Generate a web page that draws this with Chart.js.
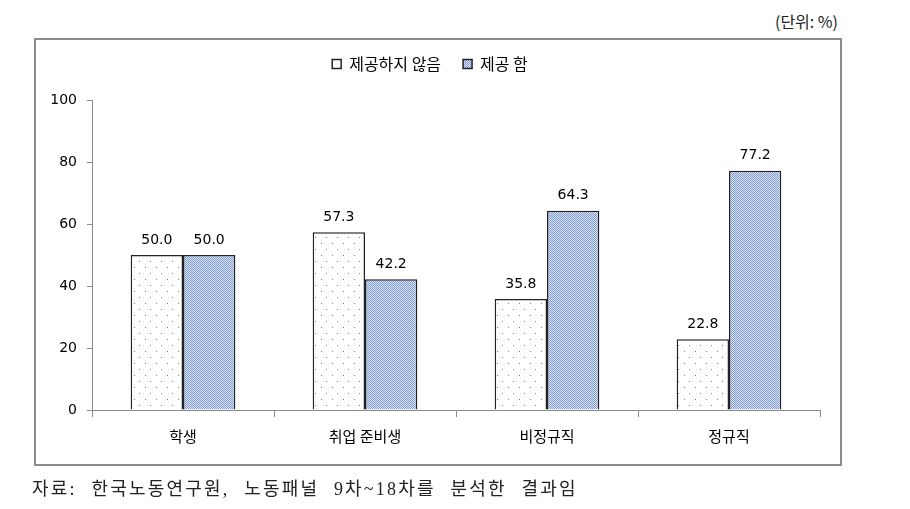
<!DOCTYPE html>
<html>
<head>
<meta charset="utf-8">
<script src="https://cdn.jsdelivr.net/npm/chart.js@4.4.0/dist/chart.umd.min.js"></script>
<style>
  html, body { margin: 0; padding: 0; background: #fff; }
  #wrap { position: relative; width: 910px; height: 509px; }
  #frame { position: absolute; left: 34px; top: 38px; width: 804px; height: 424px; border: 2px solid #8c8c8c; }
  #unit { position: absolute; right: 72px; top: 9px; font: 16px "Noto Sans CJK KR", sans-serif; color: #222; }
  #note { position: absolute; left: 32px; top: 474px; font: 18px "Liberation Serif", "Noto Sans CJK KR", serif; color: #222; letter-spacing: 2.2px; word-spacing: 8px; }
  canvas { position: absolute; left: 0; top: 0; }
</style>
</head>
<body>
<div id="wrap">
  <div id="frame"></div>
  <div id="unit">(단위: %)</div>
  <canvas id="chart" width="910" height="509"></canvas>
  <div id="note">자료: 한국노동연구원, 노동패널 9차~18차를 분석한 결과임</div>
</div>
<script>
'use strict';

var categories = ['학생', '취업 준비생', '비정규직', '정규직'];
var seriesNames = ['제공하지 않음', '제공 함'];
var notProvided = [50.0, 57.3, 35.8, 22.8];
var provided = [50.0, 42.2, 64.3, 77.2];
var yTicks = [0, 20, 40, 60, 80, 100];

var makeDots = function() {
    var c = document.createElement('canvas');
    c.width = 11; c.height = 12;
    var g = c.getContext('2d');
    g.fillStyle = '#ffffff';
    g.fillRect(0, 0, 11, 12);
    g.fillStyle = '#5f82c8';
    g.fillRect(2, 3, 1, 1);
    g.fillRect(7, 9, 1, 1);
    return g.createPattern(c, 'repeat');
};
var makeChecker = function() {
    var c = document.createElement('canvas');
    c.width = 2; c.height = 2;
    var g = c.getContext('2d');
    g.fillStyle = '#dbe4f5';
    g.fillRect(0, 0, 2, 2);
    g.fillStyle = '#7e9bd3';
    g.fillRect(0, 0, 1, 1);
    g.fillRect(1, 1, 1, 1);
    return g.createPattern(c, 'repeat');
};

// make room between the legend and the plot
var legendGap = {
    id: 'legendGap',
    beforeInit: function(chart) {
        var fit = chart.legend.fit;
        chart.legend.fit = function() {
            fit.bind(chart.legend)();
            this.height += 18;
        };
    }
};

var valueLabels = {
    id: 'valueLabels',
    afterDatasetsDraw: function(chart) {
        var ctx = chart.ctx;
        ctx.save();
        ctx.font = '14px "DejaVu Sans", sans-serif';
        ctx.fillStyle = '#000';
        ctx.textAlign = 'center';
        ctx.textBaseline = 'bottom';
        chart.data.datasets.forEach(function(ds, i) {
            chart.getDatasetMeta(i).data.forEach(function(bar, j) {
                ctx.fillText(ds.data[j].toFixed(1), bar.x, bar.y - 8);
            });
        });
        ctx.restore();
    }
};

var ctx = document.getElementById('chart').getContext('2d');
var chart = new Chart(ctx, {
    type: 'bar',
    data: {
        labels: categories,
        datasets: [{
            label: seriesNames[0],
            data: notProvided,
            backgroundColor: makeDots(),
            borderColor: '#222',
            borderWidth: 1.5
        }, {
            label: seriesNames[1],
            data: provided,
            backgroundColor: makeChecker(),
            borderColor: '#222',
            borderWidth: 1.5
        }]
    },
    options: {
        responsive: false,
        animation: false,
        layout: { padding: { left: 40, right: 90, top: 34, bottom: 60 } },
        categoryPercentage: 0.575,
        barPercentage: 1.0,
        plugins: {
            legend: {
                position: 'top',
                labels: {
                    boxWidth: 9,
                    boxHeight: 9,
                    padding: 22,
                    color: '#000',
                    font: { family: '"Noto Sans CJK KR", sans-serif', size: 16 }
                }
            },
            tooltip: { enabled: false }
        },
        scales: {
            x: {
                afterFit: function(s) { s.height = 39; },
                grid: { offset: true, drawOnChartArea: false, drawTicks: true, tickLength: 7, color: '#8c8c8c' },
                border: { color: '#8c8c8c', width: 1 },
                ticks: {
                    color: '#000',
                    padding: 10,
                    font: { family: '"Noto Sans CJK KR", sans-serif', size: 15 }
                }
            },
            y: {
                min: 0,
                max: 100,
                afterFit: function(s) { s.width = 52; },
                afterBuildTicks: function(s) {
                    s.ticks = yTicks.map(function(v) { return { value: v }; });
                },
                grid: { drawOnChartArea: false, drawTicks: true, tickLength: 5, color: '#8c8c8c' },
                border: { color: '#8c8c8c', width: 1 },
                ticks: {
                    color: '#000',
                    padding: 10,
                    font: { family: '"DejaVu Sans", sans-serif', size: 14 }
                }
            }
        }
    },
    plugins: [valueLabels, legendGap]
});
</script>
</body>
</html>
